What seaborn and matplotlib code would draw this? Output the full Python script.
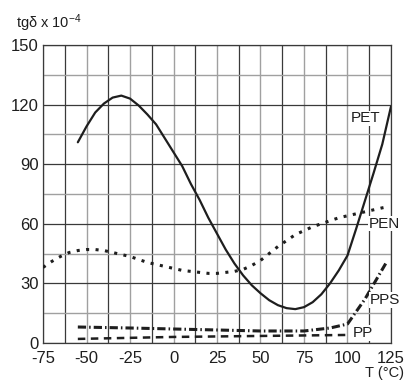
import matplotlib
matplotlib.use('Agg')
import matplotlib.pyplot as plt
import seaborn as sns
from matplotlib.ticker import MultipleLocator

# values (T in degC, tg delta x 1e-4)
pet_t=[-55,-50,-45,-40,-35,-30,-25,-20,-15,-10,-5,0,5,10,15,20,25,30,35,40,45,50,55,60,65,70,75,80,85,90,95,100,105,110,115,120,125]
pet_v=[101,109,116,120.5,123.5,124.5,123,119.5,115,110,103,96,89,80,72,63,55,47,40,34,29,25,21.5,19,17.5,17,18,20.5,24.5,30,36.5,44,57.5,71.5,85.5,100,119]

pen_t=[-75,-70,-65,-60,-55,-50,-45,-40,-35,-30,-25,-20,-15,-10,-5,0,5,10,15,20,25,30,35,40,45,50,55,60,65,70,75,80,85,90,95,100,105,110,115,120,123]
pen_v=[38,41,43.5,45.5,46.5,47,47,46.5,45.5,44.5,43.5,42,40.5,39.5,38.5,37.5,36.5,36,35.5,35,35,35.5,36,37,39,41.5,45,48.5,51.5,54.5,56.5,58.5,60,61.5,63,64,65,66,67,68,68.5]

pps_t=[-55,-25,0,25,50,75,90,100,110,122]
pps_v=[8,7.5,7,6.5,6,6,7.5,9.5,22,40]

pp_t=[-55,0,50,100]
pp_v=[2,3,3.5,4]

labels=['PET','PEN','PPS','PP']
label_pos=[(102,113),(112,60),(113,21.5),(103,5)]

sns.set_style('white')
plt.rcParams['font.family']=['Liberation Sans','DejaVu Sans']
plt.rcParams['mathtext.fontset']='custom'
plt.rcParams['mathtext.rm']='Liberation Sans'
plt.rcParams['mathtext.it']='Liberation Sans'
plt.rcParams['axes.unicode_minus']=False

fig=plt.figure(figsize=(4.06,3.81),dpi=100)
ax=fig.add_axes([0.106,0.1,0.857,0.782])

txt='#1e1e1e'
sns.lineplot(x=pet_t,y=pet_v,ax=ax,color=txt,lw=1.6,zorder=5)
sns.lineplot(x=pen_t,y=pen_v,ax=ax,color=txt,lw=2.2,linestyle=(0,(1,2.1)),zorder=5)
sns.lineplot(x=pps_t,y=pps_v,ax=ax,color=txt,lw=2.2,linestyle=(0,(2.7,1,0.5,1)),zorder=5)
sns.lineplot(x=pp_t,y=pp_v,ax=ax,color=txt,lw=1.8,linestyle=(0,(3,2.2)),zorder=5)

for lab,(x,y) in zip(labels,label_pos):
    ax.text(x,y,lab,fontsize=11,color=txt,va='center',ha='left',zorder=6,
            bbox=dict(facecolor='white',edgecolor='none',pad=0.5))

ax.set_xlim(-75,125)
ax.set_ylim(0,150)
ax.xaxis.set_major_locator(MultipleLocator(25))
ax.xaxis.set_minor_locator(MultipleLocator(12.5))
ax.yaxis.set_major_locator(MultipleLocator(30))
ax.yaxis.set_minor_locator(MultipleLocator(15))
ax.xaxis.grid(True,which='major',color='#a0a0a0',lw=1)
ax.xaxis.grid(True,which='minor',color='#3a3a3a',lw=0.9)
ax.yaxis.grid(True,which='major',color='#3a3a3a',lw=0.9)
ax.yaxis.grid(True,which='minor',color='#a0a0a0',lw=1)
ax.set_axisbelow(True)
ax.tick_params(which='both',length=0,labelsize=12,colors=txt)
ax.tick_params(axis='x',pad=6)
ax.tick_params(axis='y',pad=3)
for s in ax.spines.values():
    s.set_color('#3a3a3a')
    s.set_linewidth(0.9)
ax.set_xlabel('')
ax.set_ylabel('')

fig.text(0.04,0.94,'tg\u03b4 x 10$^{-4}$',fontsize=10.5,color=txt,va='center',ha='left')
fig.text(0.995,0.02,'T (\u00b0C)',fontsize=10.5,color=txt,va='center',ha='right')

fig.savefig('out.png',dpi=100)
